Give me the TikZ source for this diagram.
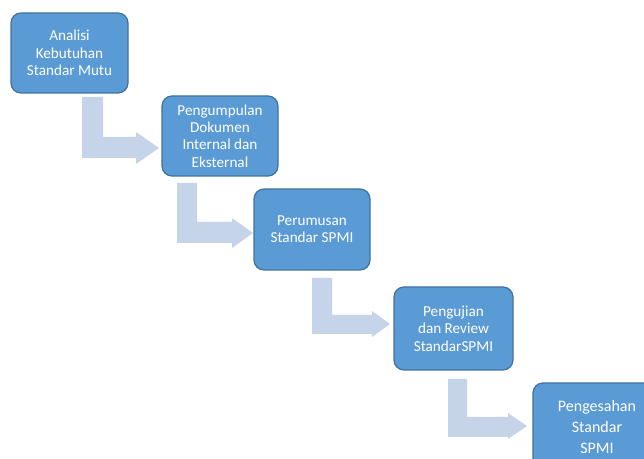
\documentclass[tikz,border=0pt]{standalone}
\usepackage{fontspec}
\setmainfont{Carlito}
\definecolor{boxfill}{HTML}{5B9BD5}
\definecolor{boxline}{HTML}{41719C}
\definecolor{arrowfill}{HTML}{C6D4EA}
\tikzset{
  stepbox/.style={draw=boxline, line width=0.9pt, fill=boxfill, rounded corners=7.5pt,
    text=white, align=center, font=\fontsize{11.4}{13}\selectfont, inner sep=0pt},
  blockarrow/.style={fill=arrowfill, draw=none}
}
\begin{document}
\begin{tikzpicture}[x=0.75pt,y=-0.75pt]
\clip (0,0) rectangle (644,459);
\fill[white] (0,0) rectangle (644,459);
% block arrows
\path[blockarrow] (82,97) -- (103,97) -- (103,137) -- (136,137) -- (136,132) -- (159,148) -- (136,164) -- (136,158) -- (82,158) -- cycle;
\path[blockarrow] (177,183) -- (197,183) -- (197,222) -- (232,222) -- (232,218) -- (253,233) -- (232,248) -- (232,243) -- (177,243) -- cycle;
\path[blockarrow] (312,278) -- (332,278) -- (332,315) -- (372,315) -- (372,311) -- (390,324) -- (372,337) -- (372,334) -- (312,334) -- cycle;
\path[blockarrow] (448,379) -- (467,379) -- (467,417) -- (508,417) -- (508,413) -- (527,426) -- (508,439) -- (508,437) -- (448,437) -- cycle;
% boxes
\node[stepbox, minimum width=87.75pt, minimum height=60pt] (b1) at (69.5,53) {Analisi\\Kebutuhan\\Standar Mutu};
\node[stepbox, minimum width=87pt, minimum height=60pt] (b2) at (220,136) {Pengumpulan\\Dokumen\\Internal dan\\Eksternal};
\node[stepbox, minimum width=87pt, minimum height=60.75pt] (b3) at (312,229.5) {Perumusan\\Standar SPMI};
\node[stepbox, minimum width=89.25pt, minimum height=62.25pt] (b4) at (453.5,328.5) {Pengujian\\dan Review\\StandarSPMI};
\node[stepbox, minimum width=96pt, minimum height=66pt, font=\fontsize{12}{16}\selectfont] (b5) at (597,427) {Pengesahan\\Standar\\SPMI};
\end{tikzpicture}
\end{document}
